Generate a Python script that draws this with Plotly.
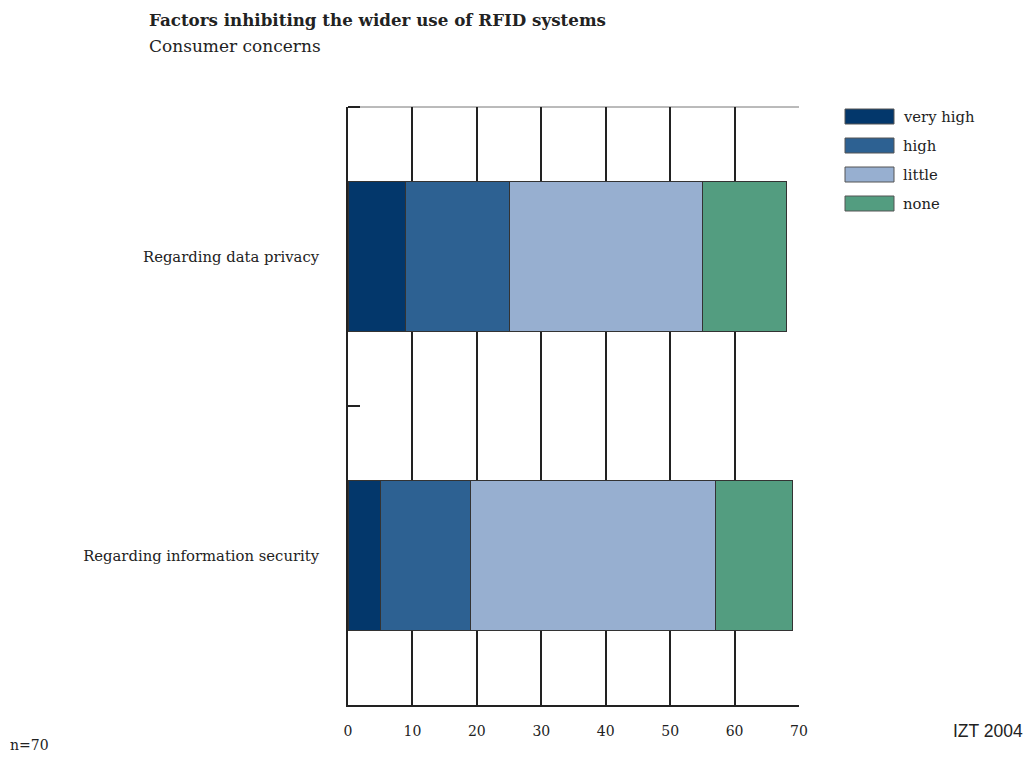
import plotly.graph_objects as go

categories = ["Regarding data privacy", "Regarding information security"]
series_names = ["very high", "high", "little", "none"]
very_high = [9, 5]
high = [16, 14]
little = [30, 38]
none = [13, 12]
series_values = [very_high, high, little, none]
colors = ["#03376B", "#2D6192", "#97AFD0", "#539D80"]
x_ticks = [0, 10, 20, 30, 40, 50, 60, 70]

SERIF = "DejaVu Serif"
INK = "#222222"

fig = go.Figure()
for name, vals, col in zip(series_names, series_values, colors):
    fig.add_trace(go.Bar(
        y=categories, x=vals, name=name, orientation="h",
        marker=dict(color=col, line=dict(color="#333333", width=1)),
        showlegend=False,
    ))

# page body has an 8px margin, so the figure is 8px smaller and shifted
fig.update_layout(
    barmode="stack",
    bargap=0.5,
    width=1024, height=749,
    margin=dict(l=340, r=233, t=99, b=52),
    plot_bgcolor="white", paper_bgcolor="white",
    font=dict(family=SERIF, size=14, color=INK),
)
fig.update_xaxes(
    range=[0, 70], tickvals=x_ticks, ticktext=[str(t) for t in x_ticks],
    showgrid=True, gridcolor=INK, gridwidth=2,
    showline=True, linecolor=INK, linewidth=2,
    ticks="", zeroline=False, ticklabelstandoff=12,
    tickfont=dict(family=SERIF, size=14, color=INK),
)
fig.update_yaxes(
    type="category", categoryorder="array", categoryarray=categories,
    autorange="reversed", tickson="boundaries",
    ticks="inside", ticklen=12, tickwidth=2, tickcolor=INK,
    showline=True, linecolor=INK, linewidth=2,
    showgrid=False, zeroline=False, ticklabelstandoff=24,
    tickfont=dict(family=SERIF, size=14.8, color=INK),
)

# top frame line (thin, grey)
fig.add_shape(type="line", xref="paper", yref="paper", x0=0, x1=1, y0=1, y1=1,
              layer="below", line=dict(color="#777777", width=1))

def px(xr):
    return (xr - 348) / 451

def py(yr):
    return 1 - (yr - 107) / 598

# top-left inside tick of the frame
fig.add_shape(type="line", xref="paper", yref="paper", x0=0, x1=px(360), y0=1, y1=1,
              line=dict(color=INK, width=2))

# custom legend
for i, (name, col) in enumerate(zip(series_names, colors)):
    yc = 116.5 + 29 * i
    fig.add_shape(type="rect", xref="paper", yref="paper",
                  x0=px(845), x1=px(894), y0=py(yc + 7.5), y1=py(yc - 7.5),
                  fillcolor=col, line=dict(color="#555555", width=1))
    fig.add_annotation(xref="paper", yref="paper", x=px(901), y=py(yc),
                       text=name, showarrow=False, xanchor="left", yanchor="middle",
                       font=dict(family=SERIF, size=14.8, color=INK))

# titles and notes
fig.add_annotation(xref="paper", yref="paper", x=px(147), y=py(20),
                   text="<b>Factors inhibiting the wider use of RFID systems</b>",
                   showarrow=False, xanchor="left", yanchor="middle",
                   font=dict(family=SERIF, size=16.7, color=INK))
fig.add_annotation(xref="paper", yref="paper", x=px(147), y=py(46),
                   text="Consumer concerns",
                   showarrow=False, xanchor="left", yanchor="middle",
                   font=dict(family=SERIF, size=17, color=INK))
fig.add_annotation(xref="paper", yref="paper", x=px(8), y=py(745),
                   text="n=70", showarrow=False, xanchor="left", yanchor="middle",
                   font=dict(family=SERIF, size=14, color=INK))
fig.add_annotation(xref="paper", yref="paper", x=px(1025), y=py(731),
                   text="IZT 2004", showarrow=False, xanchor="right", yanchor="middle",
                   font=dict(family="Liberation Sans, Arial, sans-serif", size=17.5, color=INK))

fig.write_html("out.html")
